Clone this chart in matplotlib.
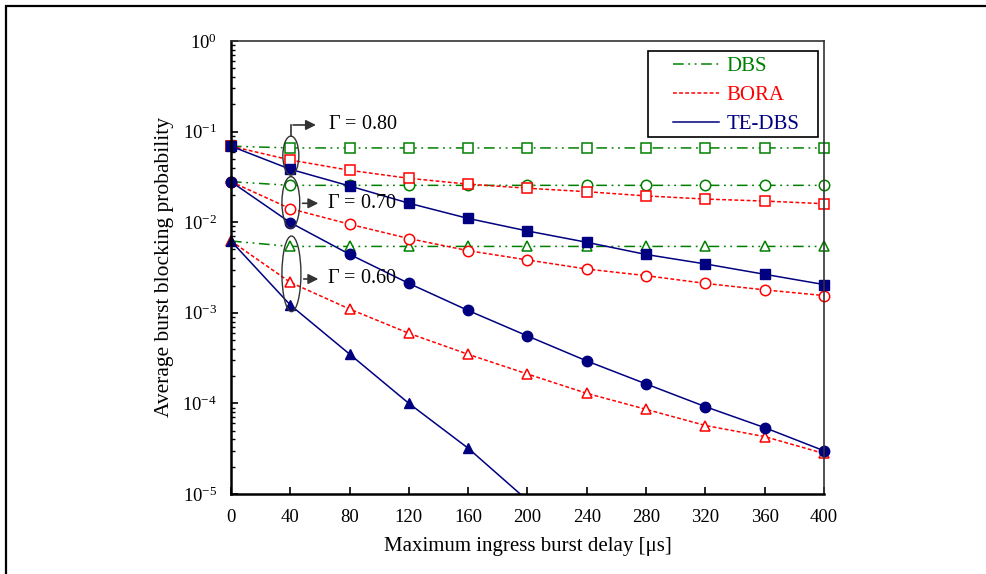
import math

import matplotlib
matplotlib.use("Agg")
import matplotlib.pyplot as plt
from matplotlib.lines import Line2D
from matplotlib.patches import Ellipse, Rectangle
from matplotlib.transforms import Bbox, TransformedBbox
from matplotlib.ticker import FixedLocator, FuncFormatter, LogLocator, NullFormatter

plt.rcParams["font.family"] = ["Liberation Serif", "DejaVu Serif"]
plt.rcParams["mathtext.fontset"] = "custom"
plt.rcParams["mathtext.rm"] = "Liberation Serif"
plt.rcParams["mathtext.it"] = "Liberation Serif:italic"
plt.rcParams["axes.unicode_minus"] = False

# --------------------------------------------------------------------------
# data
# --------------------------------------------------------------------------
delay = [0, 40, 80, 120, 160, 200, 240, 280, 320, 360, 400]

dbs_080 = [0.069, 0.066, 0.066, 0.066, 0.066, 0.066, 0.066, 0.066, 0.066, 0.066, 0.066]
dbs_070 = [0.028, 0.0255, 0.0255, 0.0255, 0.0255, 0.0255, 0.0255, 0.0255, 0.0255, 0.0255, 0.0255]
dbs_060 = [0.0062, 0.0054, 0.0054, 0.0054, 0.0054, 0.0054, 0.0054, 0.0054, 0.0054, 0.0054, 0.0054]

bora_080 = [0.069, 0.0486, 0.0374, 0.0305, 0.0263, 0.0237, 0.0217, 0.0195, 0.018, 0.0171, 0.016]
bora_070 = [0.028, 0.0141, 0.0095, 0.0066, 0.00485, 0.00383, 0.00304, 0.00257, 0.00211, 0.00179, 0.00155]
bora_060 = [0.0062, 0.00217, 0.0011, 0.000594, 0.000348, 0.000211, 0.000129, 8.6e-5, 5.7e-5, 4.3e-5, 2.8e-5]

tedbs_080 = [0.069, 0.0384, 0.0251, 0.0162, 0.011, 0.008, 0.006, 0.0044, 0.00346, 0.00266, 0.00205]
tedbs_070 = [0.028, 0.0099, 0.00442, 0.00211, 0.00106, 0.000555, 0.000294, 0.000164, 9.2e-5, 5.4e-5, 3.0e-5]
tedbs_060_x = [0, 40, 80, 120, 160, 200]
tedbs_060 = [0.0062, 0.00122, 0.00035, 1.0e-4, 3.2e-5, 8.5e-6]

x_ticks = [0, 40, 80, 120, 160, 200, 240, 280, 320, 360, 400]
legend_labels = ["DBS", "BORA", "TE-DBS"]
gamma_labels = [r"$\Gamma$ = 0.80", r"$\Gamma$ = 0.70", r"$\Gamma$ = 0.60"]

GREEN = "#008000"
RED = "#ff0000"
NAVY = "#000080"
DBS_DASH = (0, (7, 3, 1.2, 3, 1.2, 3))
BORA_DASH = (0, (2.5, 1.5))

fig = plt.figure(figsize=(9.87, 5.74), dpi=100)
ax = fig.add_axes([0.234, 0.1394, 0.6008, 0.7892])

# outer frame (only left and top edges are inside the picture)
fig.patches.append(Rectangle((0.006, -0.1), 1.2, 1.0895, transform=fig.transFigure,
                             fill=False, lw=1.6, ec="black"))

# clip vertically at the axes, but let the edge markers stick out sideways
clip = TransformedBbox(Bbox([[-0.03, 0.0], [1.03, 1.0]]), ax.transAxes)

ms = 7.5
lw = 1.1
lines = []
for ys, mk in [(dbs_080, "s"), (dbs_070, "o"), (dbs_060, "^")]:
    lines += ax.plot(delay, ys, ls=DBS_DASH, color=GREEN, lw=lw, marker=mk, ms=ms,
                     mfc="white", mec=GREEN, mew=1.1)
for ys, mk in [(bora_080, "s"), (bora_070, "o"), (bora_060, "^")]:
    lines += ax.plot(delay, ys, ls=BORA_DASH, color=RED, lw=lw, marker=mk, ms=ms,
                     mfc="white", mec=RED, mew=1.1)
for xs, ys, mk in [(delay, tedbs_080, "s"), (delay, tedbs_070, "o"), (tedbs_060_x, tedbs_060, "^")]:
    lines += ax.plot(xs, ys, ls="-", color=NAVY, lw=lw, marker=mk, ms=ms,
                     mfc=NAVY, mec=NAVY)
for ln in lines:
    ln.set_clip_box(clip)

ax.set_yscale("log")
ax.set_ylim(1e-5, 1)
ax.set_xlim(0, 400)
ax.xaxis.set_major_locator(FixedLocator(x_ticks))
ax.yaxis.set_major_locator(LogLocator(base=10, numticks=10))
ax.yaxis.set_minor_locator(LogLocator(base=10, subs=range(2, 10), numticks=10))
ax.yaxis.set_minor_formatter(NullFormatter())
ax.yaxis.set_major_formatter(FuncFormatter(lambda v, p: r"$10^{%d}$" % round(math.log10(v))))

ax.tick_params(axis="both", which="both", direction="in", top=False, right=False,
               labelsize=13.5, colors="black")
ax.tick_params(axis="both", which="major", length=5, width=1.2, pad=10)
ax.tick_params(axis="y", which="minor", length=3, width=1.0)
ax.tick_params(axis="x", which="major", pad=11)

for side in ["left", "bottom"]:
    ax.spines[side].set_linewidth(1.8)
for side in ["top", "right"]:
    ax.spines[side].set_linewidth(1.2)
    ax.spines[side].set_color("#333333")

ax.set_xlabel("Maximum ingress burst delay [\u03bcs]", fontsize=15, labelpad=8)
ax.set_ylabel("Average burst blocking probability", fontsize=15.5, labelpad=6)

# ---- legend: frame drawn separately so the side padding can be wider ----
handles = [
    Line2D([], [], color=GREEN, ls=DBS_DASH, lw=lw),
    Line2D([], [], color=RED, ls=BORA_DASH, lw=lw),
    Line2D([], [], color=NAVY, ls="-", lw=lw),
]
leg = ax.legend(handles, legend_labels, loc="upper left", bbox_to_anchor=(0.745, 0.966),
                fontsize=15, handlelength=2.2, handletextpad=0.37, labelspacing=0.46,
                borderpad=0, borderaxespad=0, frameon=False)
for txt, c in zip(leg.get_texts(), [GREEN, RED, NAVY]):
    txt.set_color(c)
ax.add_patch(Rectangle((0.703, 0.787), 0.287, 0.1916, transform=ax.transAxes,
                       fill=False, ec="black", lw=1.2, zorder=6))

# ---- Gamma group annotations ----
ell_specs = [(0.101, 0.747, 0.027, 0.086), (0.101, 0.6435, 0.030, 0.114), (0.102, 0.486, 0.032, 0.167)]
for cx, cy, w, h in ell_specs:
    ax.add_patch(Ellipse((cx, cy), w, h, transform=ax.transAxes, fill=False,
                         ec="#333333", lw=1.0, zorder=5))

arrow_kw = dict(arrowstyle="-|>,head_length=0.6,head_width=0.3", color="#333333", lw=1.2)
# Gamma = 0.80: up from ellipse top, then right
ax.plot([0.102, 0.102], [0.790, 0.8146], transform=ax.transAxes, color="#333333", lw=1.2)
ax.annotate("", xy=(0.148, 0.8146), xytext=(0.1, 0.8146), xycoords="axes fraction",
            arrowprops=arrow_kw)
ax.text(0.164, 0.8146, gamma_labels[0], transform=ax.transAxes, fontsize=14.5, va="center")
ax.annotate("", xy=(0.152, 0.6417), xytext=(0.116, 0.6417), xycoords="axes fraction",
            arrowprops=arrow_kw)
ax.text(0.162, 0.6417, gamma_labels[1], transform=ax.transAxes, fontsize=14.5, va="center")
ax.annotate("", xy=(0.152, 0.4746), xytext=(0.118, 0.4746), xycoords="axes fraction",
            arrowprops=arrow_kw)
ax.text(0.162, 0.4746, gamma_labels[2], transform=ax.transAxes, fontsize=14.5, va="center")

fig.savefig("out.png", dpi=100)
